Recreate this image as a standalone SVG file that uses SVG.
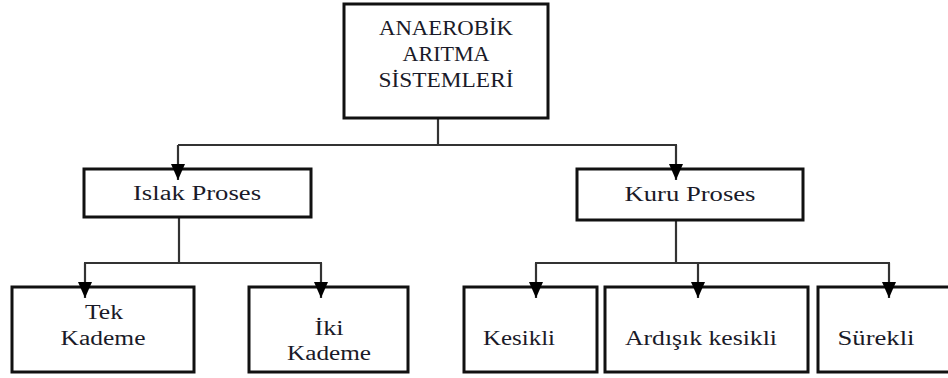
<svg xmlns="http://www.w3.org/2000/svg" width="948" height="378" viewBox="0 0 948 378">
<style>
.box{fill:#fff;stroke:#111;stroke-width:3}
.lbl{font-family:"Liberation Serif","Times New Roman",serif;font-size:20px;fill:#1a1a28;text-anchor:middle}
.ln{fill:none;stroke:#333;stroke-width:2.2}
.ar{fill:none;stroke:#333;stroke-width:2.2;marker-end:url(#arr)}
</style>
<defs>
<marker id="arr" viewBox="0 0 16 14" refX="16" refY="7" markerWidth="16" markerHeight="14" markerUnits="userSpaceOnUse" orient="auto">
<path d="M0,0 L16,7 L0,14 z" fill="#000"/>
</marker>
</defs>
<g id="connectors">
<path class="ln" d="M438,118 V145 M178,145 H677"/>
<path class="ln" d="M179,217 V263 M84,263 H322"/>
<path class="ln" d="M676,220 V263 M535,263 H890"/>
</g>
<g id="n-root">
<rect class="box" x="344" y="4" width="204" height="114"/>
<text class="lbl" x="446" y="35" textLength="134" lengthAdjust="spacingAndGlyphs">ANAEROBİK</text>
<text class="lbl" x="446" y="61" textLength="87" lengthAdjust="spacingAndGlyphs">ARITMA</text>
<text class="lbl" x="446" y="87" textLength="135" lengthAdjust="spacingAndGlyphs">SİSTEMLERİ</text>
</g>
<g id="n-islak">
<rect class="box" x="84" y="169" width="227" height="48"/>
<text class="lbl" x="197" y="200" textLength="128" lengthAdjust="spacingAndGlyphs">Islak Proses</text>
</g>
<g id="n-kuru">
<rect class="box" x="577" y="169" width="226" height="51"/>
<text class="lbl" x="690" y="201" textLength="131" lengthAdjust="spacingAndGlyphs">Kuru Proses</text>
</g>
<g id="n-tek">
<rect class="box" x="12" y="287" width="182" height="85"/>
<text class="lbl" x="104" y="319" textLength="38" lengthAdjust="spacingAndGlyphs">Tek</text>
<text class="lbl" x="103" y="345" textLength="85" lengthAdjust="spacingAndGlyphs">Kademe</text>
</g>
<g id="n-iki">
<rect class="box" x="249" y="287" width="159" height="85"/>
<text class="lbl" x="329" y="335" textLength="29" lengthAdjust="spacingAndGlyphs">İki</text>
<text class="lbl" x="329" y="360" textLength="84" lengthAdjust="spacingAndGlyphs">Kademe</text>
</g>
<g id="n-kesikli">
<rect class="box" x="464" y="287" width="133" height="85"/>
<text class="lbl" x="519" y="345" textLength="72" lengthAdjust="spacingAndGlyphs">Kesikli</text>
</g>
<g id="n-ardisik">
<rect class="box" x="605" y="287" width="203" height="85"/>
<text class="lbl" x="701" y="345" textLength="152" lengthAdjust="spacingAndGlyphs">Ardışık kesikli</text>
</g>
<g id="n-surekli">
<rect class="box" x="818" y="287" width="134" height="85"/>
<text class="lbl" x="876" y="345" textLength="77" lengthAdjust="spacingAndGlyphs">Sürekli</text>
</g>
<g id="arrows">
<path class="ar" d="M178,145 V180"/>
<path class="ar" d="M676,145 V180"/>
<path class="ar" d="M85,263 V298"/>
<path class="ar" d="M321,263 V298"/>
<path class="ar" d="M536,263 V298"/>
<path class="ar" d="M698,263 V298"/>
<path class="ar" d="M889,263 V298"/>
</g>
</svg>
